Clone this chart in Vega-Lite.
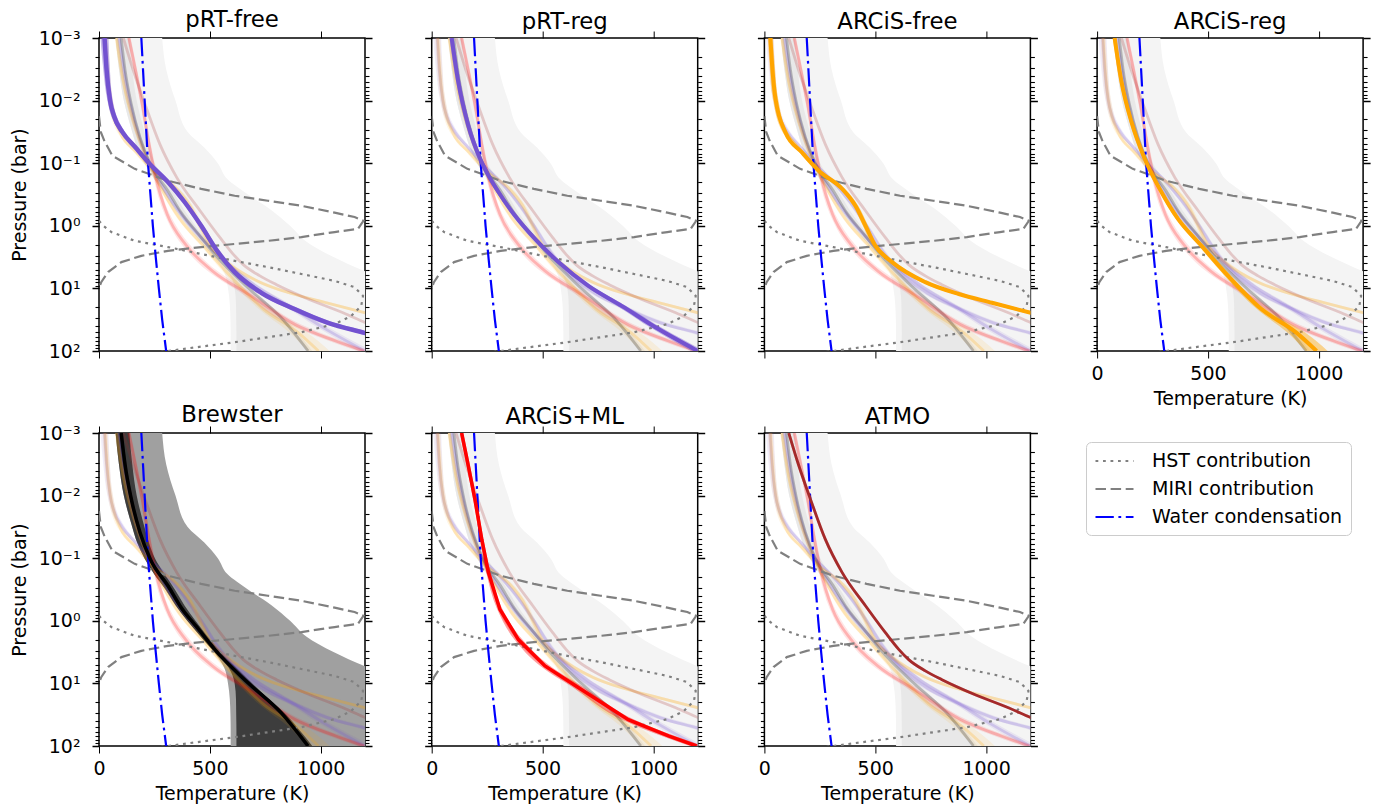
{
"$schema":"https://vega.github.io/schema/vega-lite/v6.json",
"background":"white",
"padding":{"left":9,"top":8,"right":5,"bottom":5},
"bounds":"flush",
"columns":4,
"spacing":{"row":82,"column":66.7},
"resolve":{"scale":{"color":"shared","strokeDash":"shared"},"legend":{"color":"shared","strokeDash":"shared"}},
"datasets":{
"prof":[
{"m":"pRT-free","P":0.001,"T":25,"lo":7,"hi":43},
{"m":"pRT-free","P":0.003162,"T":34,"lo":19,"hi":49},
{"m":"pRT-free","P":0.01,"T":50,"lo":38,"hi":62},
{"m":"pRT-free","P":0.01778,"T":68,"lo":56,"hi":80},
{"m":"pRT-free","P":0.03162,"T":105,"lo":93,"hi":117},
{"m":"pRT-free","P":0.05623,"T":165,"lo":155,"hi":175},
{"m":"pRT-free","P":0.1,"T":226,"lo":216,"hi":236},
{"m":"pRT-free","P":0.1995,"T":311,"lo":301,"hi":321},
{"m":"pRT-free","P":0.4169,"T":386,"lo":376,"hi":396},
{"m":"pRT-free","P":1,"T":461,"lo":451,"hi":471},
{"m":"pRT-free","P":2.63,"T":537,"lo":525,"hi":549},
{"m":"pRT-free","P":5.495,"T":612,"lo":597,"hi":627},
{"m":"pRT-free","P":11.75,"T":732,"lo":712,"hi":752},
{"m":"pRT-free","P":21.38,"T":882,"lo":857,"hi":907},
{"m":"pRT-free","P":35.48,"T":1033,"lo":1003,"hi":1063},
{"m":"pRT-free","P":51.29,"T":1198,"lo":1163,"hi":1233},
{"m":"pRT-free","P":100,"T":1500,"lo":1455,"hi":1545},
{"m":"pRT-reg","P":0.001,"T":90,"lo":80,"hi":100},
{"m":"pRT-reg","P":0.005012,"T":120,"lo":110,"hi":130},
{"m":"pRT-reg","P":0.02512,"T":165,"lo":155,"hi":175},
{"m":"pRT-reg","P":0.09772,"T":226,"lo":216,"hi":236},
{"m":"pRT-reg","P":0.2884,"T":301,"lo":291,"hi":311},
{"m":"pRT-reg","P":0.6918,"T":376,"lo":366,"hi":386},
{"m":"pRT-reg","P":1.622,"T":466,"lo":454,"hi":478},
{"m":"pRT-reg","P":3.802,"T":572,"lo":560,"hi":584},
{"m":"pRT-reg","P":9.12,"T":707,"lo":692,"hi":722},
{"m":"pRT-reg","P":19.05,"T":857,"lo":837,"hi":877},
{"m":"pRT-reg","P":44.67,"T":1023,"lo":998,"hi":1048},
{"m":"pRT-reg","P":100,"T":1200,"lo":1170,"hi":1230},
{"m":"ARCiS-free","P":0.001,"T":27,"lo":15,"hi":39},
{"m":"ARCiS-free","P":0.002754,"T":35,"lo":23,"hi":47},
{"m":"ARCiS-free","P":0.009333,"T":50,"lo":38,"hi":62},
{"m":"ARCiS-free","P":0.03236,"T":95,"lo":83,"hi":107},
{"m":"ARCiS-free","P":0.06761,"T":170,"lo":158,"hi":182},
{"m":"ARCiS-free","P":0.1318,"T":245,"lo":233,"hi":257},
{"m":"ARCiS-free","P":0.257,"T":351,"lo":339,"hi":363},
{"m":"ARCiS-free","P":0.4786,"T":411,"lo":399,"hi":423},
{"m":"ARCiS-free","P":1,"T":456,"lo":444,"hi":468},
{"m":"ARCiS-free","P":2.089,"T":501,"lo":489,"hi":513},
{"m":"ARCiS-free","P":3.802,"T":576,"lo":562,"hi":590},
{"m":"ARCiS-free","P":7.943,"T":726,"lo":708,"hi":744},
{"m":"ARCiS-free","P":12.3,"T":877,"lo":855,"hi":899},
{"m":"ARCiS-free","P":16.98,"T":1027,"lo":1002,"hi":1052},
{"m":"ARCiS-free","P":24.55,"T":1202,"lo":1174,"hi":1230},
{"m":"ARCiS-free","P":100,"T":1870,"lo":1830,"hi":1910},
{"m":"ARCiS-reg","P":0.001,"T":79,"lo":71,"hi":87},
{"m":"ARCiS-reg","P":0.005012,"T":110,"lo":102,"hi":118},
{"m":"ARCiS-reg","P":0.02188,"T":155,"lo":147,"hi":163},
{"m":"ARCiS-reg","P":0.08511,"T":215,"lo":207,"hi":223},
{"m":"ARCiS-reg","P":0.2884,"T":290,"lo":282,"hi":298},
{"m":"ARCiS-reg","P":0.7762,"T":365,"lo":355,"hi":375},
{"m":"ARCiS-reg","P":2.089,"T":471,"lo":459,"hi":483},
{"m":"ARCiS-reg","P":6.31,"T":591,"lo":576,"hi":606},
{"m":"ARCiS-reg","P":21.38,"T":741,"lo":721,"hi":761},
{"m":"ARCiS-reg","P":51.29,"T":900,"lo":860,"hi":940},
{"m":"ARCiS-reg","P":100,"T":990,"lo":940,"hi":1040},
{"m":"Brewster","P":0.001,"T":100,"lo":100,"hi":100},
{"m":"Brewster","P":0.003311,"T":118,"lo":118,"hi":118},
{"m":"Brewster","P":0.01148,"T":146,"lo":146,"hi":146},
{"m":"Brewster","P":0.0389,"T":185,"lo":185,"hi":185},
{"m":"Brewster","P":0.1047,"T":232,"lo":232,"hi":232},
{"m":"Brewster","P":0.2754,"T":311,"lo":311,"hi":311},
{"m":"Brewster","P":0.6166,"T":371,"lo":371,"hi":371},
{"m":"Brewster","P":1.349,"T":448,"lo":448,"hi":448},
{"m":"Brewster","P":2.858,"T":522,"lo":522,"hi":522},
{"m":"Brewster","P":9.772,"T":672,"lo":672,"hi":672},
{"m":"Brewster","P":29.51,"T":822,"lo":822,"hi":822},
{"m":"Brewster","P":100,"T":943,"lo":943,"hi":943},
{"m":"ARCiS+ML","P":0.001,"T":135,"lo":127,"hi":143},
{"m":"ARCiS+ML","P":0.003311,"T":165,"lo":157,"hi":173},
{"m":"ARCiS+ML","P":0.01148,"T":195,"lo":187,"hi":203},
{"m":"ARCiS+ML","P":0.05012,"T":226,"lo":218,"hi":234},
{"m":"ARCiS+ML","P":0.1698,"T":256,"lo":246,"hi":266},
{"m":"ARCiS+ML","P":0.6607,"T":308,"lo":296,"hi":320},
{"m":"ARCiS+ML","P":1.995,"T":391,"lo":373,"hi":409},
{"m":"ARCiS+ML","P":5.248,"T":511,"lo":489,"hi":533},
{"m":"ARCiS+ML","P":12.59,"T":677,"lo":652,"hi":702},
{"m":"ARCiS+ML","P":38.02,"T":887,"lo":859,"hi":915},
{"m":"ARCiS+ML","P":69.18,"T":1068,"lo":1038,"hi":1098},
{"m":"ARCiS+ML","P":100,"T":1195,"lo":1165,"hi":1225},
{"m":"ATMO","P":0.001,"T":110,"lo":110,"hi":110},
{"m":"ATMO","P":0.003311,"T":155,"lo":155,"hi":155},
{"m":"ATMO","P":0.01148,"T":208,"lo":208,"hi":208},
{"m":"ATMO","P":0.05012,"T":275,"lo":275,"hi":275},
{"m":"ATMO","P":0.1698,"T":351,"lo":351,"hi":351},
{"m":"ATMO","P":0.5754,"T":456,"lo":456,"hi":456},
{"m":"ATMO","P":1.549,"T":546,"lo":546,"hi":546},
{"m":"ATMO","P":2.858,"T":606,"lo":606,"hi":606},
{"m":"ATMO","P":4.169,"T":651,"lo":651,"hi":651},
{"m":"ATMO","P":6.31,"T":726,"lo":726,"hi":726},
{"m":"ATMO","P":8.71,"T":801,"lo":801,"hi":801},
{"m":"ATMO","P":15.14,"T":951,"lo":951,"hi":951},
{"m":"ATMO","P":24.55,"T":1101,"lo":1101,"hi":1101},
{"m":"ATMO","P":35.48,"T":1203,"lo":1203,"hi":1203},
{"m":"ATMO","P":100,"T":1560,"lo":1560,"hi":1560}
],
"env":[
{"P":0.001,"olo":75,"ilo":75,"ihi":137,"ohi":285},
{"P":0.003162,"olo":90,"ilo":90,"ihi":150,"ohi":303},
{"P":0.01,"olo":112,"ilo":112,"ihi":170,"ohi":345},
{"P":0.03162,"olo":150,"ilo":150,"ihi":205,"ohi":400},
{"P":0.05623,"olo":172,"ilo":172,"ihi":225,"ohi":475},
{"P":0.1,"olo":205,"ilo":205,"ihi":252,"ohi":536},
{"P":0.1778,"olo":248,"ilo":248,"ihi":295,"ohi":578},
{"P":0.3162,"olo":300,"ilo":300,"ihi":342,"ohi":672},
{"P":0.5623,"olo":345,"ilo":345,"ihi":385,"ohi":778},
{"P":1,"olo":398,"ilo":398,"ihi":435,"ohi":862},
{"P":1.778,"olo":458,"ilo":458,"ihi":490,"ohi":935},
{"P":3.162,"olo":518,"ilo":520,"ihi":550,"ohi":1058},
{"P":5.623,"olo":565,"ilo":585,"ihi":620,"ohi":1215},
{"P":10,"olo":582,"ilo":612,"ihi":692,"ohi":1400},
{"P":17.78,"olo":590,"ilo":618,"ihi":765,"ohi":1550},
{"P":31.62,"olo":593,"ilo":619,"ihi":845,"ohi":1700},
{"P":56.23,"olo":594,"ilo":620,"ihi":905,"ohi":1850},
{"P":100,"olo":594,"ilo":620,"ihi":962,"ohi":2000}
],
"con":[
{"name":"MIRI contribution","i":0,"T":0,"P":0.01778},
{"name":"MIRI contribution","i":1,"T":8,"P":0.03162},
{"name":"MIRI contribution","i":2,"T":25,"P":0.04467},
{"name":"MIRI contribution","i":3,"T":60,"P":0.07586},
{"name":"MIRI contribution","i":4,"T":161,"P":0.123},
{"name":"MIRI contribution","i":5,"T":311,"P":0.1905},
{"name":"MIRI contribution","i":6,"T":461,"P":0.257},
{"name":"MIRI contribution","i":7,"T":612,"P":0.3311},
{"name":"MIRI contribution","i":8,"T":762,"P":0.3981},
{"name":"MIRI contribution","i":9,"T":913,"P":0.4786},
{"name":"MIRI contribution","i":10,"T":1063,"P":0.6166},
{"name":"MIRI contribution","i":11,"T":1153,"P":0.7244},
{"name":"MIRI contribution","i":12,"T":1193,"P":0.8318},
{"name":"MIRI contribution","i":13,"T":1168,"P":1.122},
{"name":"MIRI contribution","i":14,"T":1063,"P":1.259},
{"name":"MIRI contribution","i":15,"T":913,"P":1.514},
{"name":"MIRI contribution","i":16,"T":762,"P":1.738},
{"name":"MIRI contribution","i":17,"T":612,"P":1.95},
{"name":"MIRI contribution","i":18,"T":461,"P":2.188},
{"name":"MIRI contribution","i":19,"T":311,"P":2.512},
{"name":"MIRI contribution","i":20,"T":191,"P":3.02},
{"name":"MIRI contribution","i":21,"T":101,"P":3.802},
{"name":"MIRI contribution","i":22,"T":41,"P":5.495},
{"name":"MIRI contribution","i":23,"T":10,"P":7.943},
{"name":"MIRI contribution","i":24,"T":0,"P":10},
{"name":"HST contribution","i":0,"T":0,"P":0.8318},
{"name":"HST contribution","i":1,"T":20,"P":1},
{"name":"HST contribution","i":2,"T":56,"P":1.259},
{"name":"HST contribution","i":3,"T":161,"P":1.738},
{"name":"HST contribution","i":4,"T":311,"P":2.188},
{"name":"HST contribution","i":5,"T":461,"P":2.818},
{"name":"HST contribution","i":6,"T":612,"P":3.631},
{"name":"HST contribution","i":7,"T":762,"P":4.571},
{"name":"HST contribution","i":8,"T":913,"P":5.888},
{"name":"HST contribution","i":9,"T":1063,"P":7.586},
{"name":"HST contribution","i":10,"T":1153,"P":9.55},
{"name":"HST contribution","i":11,"T":1191,"P":13.18},
{"name":"HST contribution","i":12,"T":1183,"P":19.05},
{"name":"HST contribution","i":13,"T":1138,"P":27.54},
{"name":"HST contribution","i":14,"T":1063,"P":37.15},
{"name":"HST contribution","i":15,"T":913,"P":50.12},
{"name":"HST contribution","i":16,"T":762,"P":60.26},
{"name":"HST contribution","i":17,"T":612,"P":72.44},
{"name":"HST contribution","i":18,"T":461,"P":85.11},
{"name":"HST contribution","i":19,"T":311,"P":100},
{"name":"HST contribution","i":20,"T":250,"P":107.2},
{"name":"Water condensation","i":0,"T":191,"P":0.001},
{"name":"Water condensation","i":1,"T":206,"P":0.01},
{"name":"Water condensation","i":2,"T":221,"P":0.1},
{"name":"Water condensation","i":3,"T":243,"P":1},
{"name":"Water condensation","i":4,"T":256,"P":3.162},
{"name":"Water condensation","i":5,"T":270,"P":10},
{"name":"Water condensation","i":6,"T":285,"P":31.62},
{"name":"Water condensation","i":7,"T":303,"P":100}
]
},
"concat":[
{"title":"pRT-free","width":266,"height":313,"layer":[
{"data":{"name":"env"},"mark":{"type":"area","orient":"horizontal","interpolate":"monotone","color":"#f4f4f4","clip":true},"encoding":{"y":{"field":"P","type":"quantitative","scale":{"type":"log","domain":[0.001,100],"reverse":true,"nice":false},"axis":{"orient":"left","values":[0.001,0.002,0.003,0.004,0.005,0.006,0.007,0.008,0.009,0.01,0.02,0.03,0.04,0.05,0.06,0.07,0.08,0.09,0.1,0.2,0.3,0.4,0.5,0.6,0.7,0.8,0.9,1,2,3,4,5,6,7,8,9,10,20,30,40,50,60,70,80,90,100],"labelExpr":"datum.value == 0.001 ? '10⁻³' : datum.value == 0.01 ? '10⁻²' : datum.value == 0.1 ? '10⁻¹' : datum.value == 1 ? '10⁰' : datum.value == 10 ? '10¹' : datum.value == 100 ? '10²' : ''","labelPadding":12,"titlePadding":9,"tickSize":{"condition":{"test":"indexof([0.001,0.01,0.1,1,10,100], datum.value) >= 0","value":7},"value":4},"tickWidth":{"condition":{"test":"indexof([0.001,0.01,0.1,1,10,100], datum.value) >= 0","value":1.5},"value":1.1},"title":"Pressure (bar)"}},"x":{"field":"olo","type":"quantitative","scale":{"domain":[0,1200],"nice":false,"zero":false},"axis":{"orient":"bottom","values":[0,500,1000],"tickSize":7,"labels":false,"title":null}},"x2":{"field":"ohi"}}},
{"data":{"name":"env"},"mark":{"type":"area","orient":"horizontal","interpolate":"monotone","color":"#e8e8e8","clip":true},"encoding":{"y":{"field":"P","type":"quantitative","scale":{"type":"log","domain":[0.001,100],"reverse":true,"nice":false},"axis":{"orient":"right","values":[0.001,0.002,0.003,0.004,0.005,0.006,0.007,0.008,0.009,0.01,0.02,0.03,0.04,0.05,0.06,0.07,0.08,0.09,0.1,0.2,0.3,0.4,0.5,0.6,0.7,0.8,0.9,1,2,3,4,5,6,7,8,9,10,20,30,40,50,60,70,80,90,100],"labels":false,"tickSize":{"condition":{"test":"indexof([0.001,0.01,0.1,1,10,100], datum.value) >= 0","value":7},"value":4},"tickWidth":{"condition":{"test":"indexof([0.001,0.01,0.1,1,10,100], datum.value) >= 0","value":1.5},"value":1.1},"title":null}},"x":{"field":"ilo","type":"quantitative","scale":{"domain":[0,1200],"nice":false,"zero":false},"axis":{"orient":"top","values":[0,500,1000],"tickSize":7,"labels":false,"title":null}},"x2":{"field":"ihi"}}},
{"data":{"name":"prof"},"mark":{"type":"area","orient":"horizontal","interpolate":"monotone","opacity":0.1,"clip":true},"encoding":{"y":{"field":"P","type":"quantitative","scale":{"type":"log","domain":[0.001,100],"reverse":true,"nice":false},"axis":null},"x":{"field":"lo","type":"quantitative","scale":{"domain":[0,1200],"nice":false,"zero":false},"axis":null},"x2":{"field":"hi"},"fill":{"field":"m","type":"nominal","scale":{"domain":["pRT-free","pRT-reg","ARCiS-free","ARCiS-reg","Brewster","ARCiS+ML","ATMO"],"range":["#7352d0","#7352d0","#ffa500","#ffa500","#000000","#ff0000","#a52a2a"]},"legend":null}}},
{"data":{"name":"prof"},"mark":{"type":"line","interpolate":"monotone","opacity":0.22,"strokeWidth":2.8,"clip":true},"encoding":{"y":{"field":"P","type":"quantitative","scale":{"type":"log","domain":[0.001,100],"reverse":true,"nice":false},"axis":null},"x":{"field":"T","type":"quantitative","scale":{"domain":[0,1200],"nice":false,"zero":false},"axis":null},"stroke":{"field":"m","type":"nominal","scale":{"domain":["pRT-free","pRT-reg","ARCiS-free","ARCiS-reg","Brewster","ARCiS+ML","ATMO"],"range":["#7352d0","#7352d0","#ffa500","#ffa500","#000000","#ff0000","#a52a2a"]},"legend":null},"order":{"field":"P","type":"quantitative"}}},
{"data":{"name":"con"},"mark":{"type":"line","strokeWidth":2.2,"clip":true},"encoding":{"y":{"field":"P","type":"quantitative","scale":{"type":"log","domain":[0.001,100],"reverse":true,"nice":false},"axis":null},"x":{"field":"T","type":"quantitative","scale":{"domain":[0,1200],"nice":false,"zero":false},"axis":null},"color":{"field":"name","type":"nominal","title":null,"scale":{"domain":["HST contribution","MIRI contribution","Water condensation"],"range":["#808080","#808080","#0000ff"]}},"strokeDash":{"field":"name","type":"nominal","title":null,"scale":{"domain":["HST contribution","MIRI contribution","Water condensation"],"range":[[2.8,4.7],[10.5,4.6],[18.3,4.6,2.8,4.6]]}},"order":{"field":"i","type":"quantitative"}}},
{"data":{"name":"prof"},"transform":[{"filter":"datum.m == 'pRT-free'"}],"mark":{"type":"area","orient":"horizontal","interpolate":"monotone","color":"#7352d0","opacity":0.35,"clip":true},"encoding":{"y":{"field":"P","type":"quantitative","scale":{"type":"log","domain":[0.001,100],"reverse":true,"nice":false},"axis":null},"x":{"field":"lo","type":"quantitative","scale":{"domain":[0,1200],"nice":false,"zero":false},"axis":null},"x2":{"field":"hi"}}},
{"data":{"name":"prof"},"transform":[{"filter":"datum.m == 'pRT-free'"}],"mark":{"type":"line","interpolate":"monotone","color":"#7352d0","strokeWidth":4.5,"clip":true},"encoding":{"y":{"field":"P","type":"quantitative","scale":{"type":"log","domain":[0.001,100],"reverse":true,"nice":false},"axis":null},"x":{"field":"T","type":"quantitative","scale":{"domain":[0,1200],"nice":false,"zero":false},"axis":null},"order":{"field":"P","type":"quantitative"}}}
]},
{"title":"pRT-reg","width":266,"height":313,"layer":[
{"data":{"name":"env"},"mark":{"type":"area","orient":"horizontal","interpolate":"monotone","color":"#f4f4f4","clip":true},"encoding":{"y":{"field":"P","type":"quantitative","scale":{"type":"log","domain":[0.001,100],"reverse":true,"nice":false},"axis":{"orient":"left","values":[0.001,0.002,0.003,0.004,0.005,0.006,0.007,0.008,0.009,0.01,0.02,0.03,0.04,0.05,0.06,0.07,0.08,0.09,0.1,0.2,0.3,0.4,0.5,0.6,0.7,0.8,0.9,1,2,3,4,5,6,7,8,9,10,20,30,40,50,60,70,80,90,100],"labels":false,"tickSize":{"condition":{"test":"indexof([0.001,0.01,0.1,1,10,100], datum.value) >= 0","value":7},"value":4},"tickWidth":{"condition":{"test":"indexof([0.001,0.01,0.1,1,10,100], datum.value) >= 0","value":1.5},"value":1.1},"title":null}},"x":{"field":"olo","type":"quantitative","scale":{"domain":[0,1200],"nice":false,"zero":false},"axis":{"orient":"bottom","values":[0,500,1000],"tickSize":7,"labels":false,"title":null}},"x2":{"field":"ohi"}}},
{"data":{"name":"env"},"mark":{"type":"area","orient":"horizontal","interpolate":"monotone","color":"#e8e8e8","clip":true},"encoding":{"y":{"field":"P","type":"quantitative","scale":{"type":"log","domain":[0.001,100],"reverse":true,"nice":false},"axis":{"orient":"right","values":[0.001,0.002,0.003,0.004,0.005,0.006,0.007,0.008,0.009,0.01,0.02,0.03,0.04,0.05,0.06,0.07,0.08,0.09,0.1,0.2,0.3,0.4,0.5,0.6,0.7,0.8,0.9,1,2,3,4,5,6,7,8,9,10,20,30,40,50,60,70,80,90,100],"labels":false,"tickSize":{"condition":{"test":"indexof([0.001,0.01,0.1,1,10,100], datum.value) >= 0","value":7},"value":4},"tickWidth":{"condition":{"test":"indexof([0.001,0.01,0.1,1,10,100], datum.value) >= 0","value":1.5},"value":1.1},"title":null}},"x":{"field":"ilo","type":"quantitative","scale":{"domain":[0,1200],"nice":false,"zero":false},"axis":{"orient":"top","values":[0,500,1000],"tickSize":7,"labels":false,"title":null}},"x2":{"field":"ihi"}}},
{"data":{"name":"prof"},"mark":{"type":"area","orient":"horizontal","interpolate":"monotone","opacity":0.1,"clip":true},"encoding":{"y":{"field":"P","type":"quantitative","scale":{"type":"log","domain":[0.001,100],"reverse":true,"nice":false},"axis":null},"x":{"field":"lo","type":"quantitative","scale":{"domain":[0,1200],"nice":false,"zero":false},"axis":null},"x2":{"field":"hi"},"fill":{"field":"m","type":"nominal","scale":{"domain":["pRT-free","pRT-reg","ARCiS-free","ARCiS-reg","Brewster","ARCiS+ML","ATMO"],"range":["#7352d0","#7352d0","#ffa500","#ffa500","#000000","#ff0000","#a52a2a"]},"legend":null}}},
{"data":{"name":"prof"},"mark":{"type":"line","interpolate":"monotone","opacity":0.22,"strokeWidth":2.8,"clip":true},"encoding":{"y":{"field":"P","type":"quantitative","scale":{"type":"log","domain":[0.001,100],"reverse":true,"nice":false},"axis":null},"x":{"field":"T","type":"quantitative","scale":{"domain":[0,1200],"nice":false,"zero":false},"axis":null},"stroke":{"field":"m","type":"nominal","scale":{"domain":["pRT-free","pRT-reg","ARCiS-free","ARCiS-reg","Brewster","ARCiS+ML","ATMO"],"range":["#7352d0","#7352d0","#ffa500","#ffa500","#000000","#ff0000","#a52a2a"]},"legend":null},"order":{"field":"P","type":"quantitative"}}},
{"data":{"name":"con"},"mark":{"type":"line","strokeWidth":2.2,"clip":true},"encoding":{"y":{"field":"P","type":"quantitative","scale":{"type":"log","domain":[0.001,100],"reverse":true,"nice":false},"axis":null},"x":{"field":"T","type":"quantitative","scale":{"domain":[0,1200],"nice":false,"zero":false},"axis":null},"color":{"field":"name","type":"nominal","title":null,"scale":{"domain":["HST contribution","MIRI contribution","Water condensation"],"range":["#808080","#808080","#0000ff"]}},"strokeDash":{"field":"name","type":"nominal","title":null,"scale":{"domain":["HST contribution","MIRI contribution","Water condensation"],"range":[[2.8,4.7],[10.5,4.6],[18.3,4.6,2.8,4.6]]}},"order":{"field":"i","type":"quantitative"}}},
{"data":{"name":"prof"},"transform":[{"filter":"datum.m == 'pRT-reg'"}],"mark":{"type":"area","orient":"horizontal","interpolate":"monotone","color":"#7352d0","opacity":0.35,"clip":true},"encoding":{"y":{"field":"P","type":"quantitative","scale":{"type":"log","domain":[0.001,100],"reverse":true,"nice":false},"axis":null},"x":{"field":"lo","type":"quantitative","scale":{"domain":[0,1200],"nice":false,"zero":false},"axis":null},"x2":{"field":"hi"}}},
{"data":{"name":"prof"},"transform":[{"filter":"datum.m == 'pRT-reg'"}],"mark":{"type":"line","interpolate":"monotone","color":"#7352d0","strokeWidth":4,"clip":true},"encoding":{"y":{"field":"P","type":"quantitative","scale":{"type":"log","domain":[0.001,100],"reverse":true,"nice":false},"axis":null},"x":{"field":"T","type":"quantitative","scale":{"domain":[0,1200],"nice":false,"zero":false},"axis":null},"order":{"field":"P","type":"quantitative"}}}
]},
{"title":"ARCiS-free","width":266,"height":313,"layer":[
{"data":{"name":"env"},"mark":{"type":"area","orient":"horizontal","interpolate":"monotone","color":"#f4f4f4","clip":true},"encoding":{"y":{"field":"P","type":"quantitative","scale":{"type":"log","domain":[0.001,100],"reverse":true,"nice":false},"axis":{"orient":"left","values":[0.001,0.002,0.003,0.004,0.005,0.006,0.007,0.008,0.009,0.01,0.02,0.03,0.04,0.05,0.06,0.07,0.08,0.09,0.1,0.2,0.3,0.4,0.5,0.6,0.7,0.8,0.9,1,2,3,4,5,6,7,8,9,10,20,30,40,50,60,70,80,90,100],"labels":false,"tickSize":{"condition":{"test":"indexof([0.001,0.01,0.1,1,10,100], datum.value) >= 0","value":7},"value":4},"tickWidth":{"condition":{"test":"indexof([0.001,0.01,0.1,1,10,100], datum.value) >= 0","value":1.5},"value":1.1},"title":null}},"x":{"field":"olo","type":"quantitative","scale":{"domain":[0,1200],"nice":false,"zero":false},"axis":{"orient":"bottom","values":[0,500,1000],"tickSize":7,"labels":false,"title":null}},"x2":{"field":"ohi"}}},
{"data":{"name":"env"},"mark":{"type":"area","orient":"horizontal","interpolate":"monotone","color":"#e8e8e8","clip":true},"encoding":{"y":{"field":"P","type":"quantitative","scale":{"type":"log","domain":[0.001,100],"reverse":true,"nice":false},"axis":{"orient":"right","values":[0.001,0.002,0.003,0.004,0.005,0.006,0.007,0.008,0.009,0.01,0.02,0.03,0.04,0.05,0.06,0.07,0.08,0.09,0.1,0.2,0.3,0.4,0.5,0.6,0.7,0.8,0.9,1,2,3,4,5,6,7,8,9,10,20,30,40,50,60,70,80,90,100],"labels":false,"tickSize":{"condition":{"test":"indexof([0.001,0.01,0.1,1,10,100], datum.value) >= 0","value":7},"value":4},"tickWidth":{"condition":{"test":"indexof([0.001,0.01,0.1,1,10,100], datum.value) >= 0","value":1.5},"value":1.1},"title":null}},"x":{"field":"ilo","type":"quantitative","scale":{"domain":[0,1200],"nice":false,"zero":false},"axis":{"orient":"top","values":[0,500,1000],"tickSize":7,"labels":false,"title":null}},"x2":{"field":"ihi"}}},
{"data":{"name":"prof"},"mark":{"type":"area","orient":"horizontal","interpolate":"monotone","opacity":0.1,"clip":true},"encoding":{"y":{"field":"P","type":"quantitative","scale":{"type":"log","domain":[0.001,100],"reverse":true,"nice":false},"axis":null},"x":{"field":"lo","type":"quantitative","scale":{"domain":[0,1200],"nice":false,"zero":false},"axis":null},"x2":{"field":"hi"},"fill":{"field":"m","type":"nominal","scale":{"domain":["pRT-free","pRT-reg","ARCiS-free","ARCiS-reg","Brewster","ARCiS+ML","ATMO"],"range":["#7352d0","#7352d0","#ffa500","#ffa500","#000000","#ff0000","#a52a2a"]},"legend":null}}},
{"data":{"name":"prof"},"mark":{"type":"line","interpolate":"monotone","opacity":0.22,"strokeWidth":2.8,"clip":true},"encoding":{"y":{"field":"P","type":"quantitative","scale":{"type":"log","domain":[0.001,100],"reverse":true,"nice":false},"axis":null},"x":{"field":"T","type":"quantitative","scale":{"domain":[0,1200],"nice":false,"zero":false},"axis":null},"stroke":{"field":"m","type":"nominal","scale":{"domain":["pRT-free","pRT-reg","ARCiS-free","ARCiS-reg","Brewster","ARCiS+ML","ATMO"],"range":["#7352d0","#7352d0","#ffa500","#ffa500","#000000","#ff0000","#a52a2a"]},"legend":null},"order":{"field":"P","type":"quantitative"}}},
{"data":{"name":"con"},"mark":{"type":"line","strokeWidth":2.2,"clip":true},"encoding":{"y":{"field":"P","type":"quantitative","scale":{"type":"log","domain":[0.001,100],"reverse":true,"nice":false},"axis":null},"x":{"field":"T","type":"quantitative","scale":{"domain":[0,1200],"nice":false,"zero":false},"axis":null},"color":{"field":"name","type":"nominal","title":null,"scale":{"domain":["HST contribution","MIRI contribution","Water condensation"],"range":["#808080","#808080","#0000ff"]}},"strokeDash":{"field":"name","type":"nominal","title":null,"scale":{"domain":["HST contribution","MIRI contribution","Water condensation"],"range":[[2.8,4.7],[10.5,4.6],[18.3,4.6,2.8,4.6]]}},"order":{"field":"i","type":"quantitative"}}},
{"data":{"name":"prof"},"transform":[{"filter":"datum.m == 'ARCiS-free'"}],"mark":{"type":"area","orient":"horizontal","interpolate":"monotone","color":"#ffa500","opacity":0.35,"clip":true},"encoding":{"y":{"field":"P","type":"quantitative","scale":{"type":"log","domain":[0.001,100],"reverse":true,"nice":false},"axis":null},"x":{"field":"lo","type":"quantitative","scale":{"domain":[0,1200],"nice":false,"zero":false},"axis":null},"x2":{"field":"hi"}}},
{"data":{"name":"prof"},"transform":[{"filter":"datum.m == 'ARCiS-free'"}],"mark":{"type":"line","interpolate":"monotone","color":"#ffa500","strokeWidth":4,"clip":true},"encoding":{"y":{"field":"P","type":"quantitative","scale":{"type":"log","domain":[0.001,100],"reverse":true,"nice":false},"axis":null},"x":{"field":"T","type":"quantitative","scale":{"domain":[0,1200],"nice":false,"zero":false},"axis":null},"order":{"field":"P","type":"quantitative"}}}
]},
{"title":"ARCiS-reg","width":266,"height":313,"layer":[
{"data":{"name":"env"},"mark":{"type":"area","orient":"horizontal","interpolate":"monotone","color":"#f4f4f4","clip":true},"encoding":{"y":{"field":"P","type":"quantitative","scale":{"type":"log","domain":[0.001,100],"reverse":true,"nice":false},"axis":{"orient":"left","values":[0.001,0.002,0.003,0.004,0.005,0.006,0.007,0.008,0.009,0.01,0.02,0.03,0.04,0.05,0.06,0.07,0.08,0.09,0.1,0.2,0.3,0.4,0.5,0.6,0.7,0.8,0.9,1,2,3,4,5,6,7,8,9,10,20,30,40,50,60,70,80,90,100],"labels":false,"tickSize":{"condition":{"test":"indexof([0.001,0.01,0.1,1,10,100], datum.value) >= 0","value":7},"value":4},"tickWidth":{"condition":{"test":"indexof([0.001,0.01,0.1,1,10,100], datum.value) >= 0","value":1.5},"value":1.1},"title":null}},"x":{"field":"olo","type":"quantitative","scale":{"domain":[0,1200],"nice":false,"zero":false},"axis":{"orient":"bottom","values":[0,500,1000],"format":"d","tickSize":7,"title":"Temperature (K)"}},"x2":{"field":"ohi"}}},
{"data":{"name":"env"},"mark":{"type":"area","orient":"horizontal","interpolate":"monotone","color":"#e8e8e8","clip":true},"encoding":{"y":{"field":"P","type":"quantitative","scale":{"type":"log","domain":[0.001,100],"reverse":true,"nice":false},"axis":{"orient":"right","values":[0.001,0.002,0.003,0.004,0.005,0.006,0.007,0.008,0.009,0.01,0.02,0.03,0.04,0.05,0.06,0.07,0.08,0.09,0.1,0.2,0.3,0.4,0.5,0.6,0.7,0.8,0.9,1,2,3,4,5,6,7,8,9,10,20,30,40,50,60,70,80,90,100],"labels":false,"tickSize":{"condition":{"test":"indexof([0.001,0.01,0.1,1,10,100], datum.value) >= 0","value":7},"value":4},"tickWidth":{"condition":{"test":"indexof([0.001,0.01,0.1,1,10,100], datum.value) >= 0","value":1.5},"value":1.1},"title":null}},"x":{"field":"ilo","type":"quantitative","scale":{"domain":[0,1200],"nice":false,"zero":false},"axis":{"orient":"top","values":[0,500,1000],"tickSize":7,"labels":false,"title":null}},"x2":{"field":"ihi"}}},
{"data":{"name":"prof"},"mark":{"type":"area","orient":"horizontal","interpolate":"monotone","opacity":0.1,"clip":true},"encoding":{"y":{"field":"P","type":"quantitative","scale":{"type":"log","domain":[0.001,100],"reverse":true,"nice":false},"axis":null},"x":{"field":"lo","type":"quantitative","scale":{"domain":[0,1200],"nice":false,"zero":false},"axis":null},"x2":{"field":"hi"},"fill":{"field":"m","type":"nominal","scale":{"domain":["pRT-free","pRT-reg","ARCiS-free","ARCiS-reg","Brewster","ARCiS+ML","ATMO"],"range":["#7352d0","#7352d0","#ffa500","#ffa500","#000000","#ff0000","#a52a2a"]},"legend":null}}},
{"data":{"name":"prof"},"mark":{"type":"line","interpolate":"monotone","opacity":0.22,"strokeWidth":2.8,"clip":true},"encoding":{"y":{"field":"P","type":"quantitative","scale":{"type":"log","domain":[0.001,100],"reverse":true,"nice":false},"axis":null},"x":{"field":"T","type":"quantitative","scale":{"domain":[0,1200],"nice":false,"zero":false},"axis":null},"stroke":{"field":"m","type":"nominal","scale":{"domain":["pRT-free","pRT-reg","ARCiS-free","ARCiS-reg","Brewster","ARCiS+ML","ATMO"],"range":["#7352d0","#7352d0","#ffa500","#ffa500","#000000","#ff0000","#a52a2a"]},"legend":null},"order":{"field":"P","type":"quantitative"}}},
{"data":{"name":"con"},"mark":{"type":"line","strokeWidth":2.2,"clip":true},"encoding":{"y":{"field":"P","type":"quantitative","scale":{"type":"log","domain":[0.001,100],"reverse":true,"nice":false},"axis":null},"x":{"field":"T","type":"quantitative","scale":{"domain":[0,1200],"nice":false,"zero":false},"axis":null},"color":{"field":"name","type":"nominal","title":null,"scale":{"domain":["HST contribution","MIRI contribution","Water condensation"],"range":["#808080","#808080","#0000ff"]}},"strokeDash":{"field":"name","type":"nominal","title":null,"scale":{"domain":["HST contribution","MIRI contribution","Water condensation"],"range":[[2.8,4.7],[10.5,4.6],[18.3,4.6,2.8,4.6]]}},"order":{"field":"i","type":"quantitative"}}},
{"data":{"name":"prof"},"transform":[{"filter":"datum.m == 'ARCiS-reg'"}],"mark":{"type":"area","orient":"horizontal","interpolate":"monotone","color":"#ffa500","opacity":0.35,"clip":true},"encoding":{"y":{"field":"P","type":"quantitative","scale":{"type":"log","domain":[0.001,100],"reverse":true,"nice":false},"axis":null},"x":{"field":"lo","type":"quantitative","scale":{"domain":[0,1200],"nice":false,"zero":false},"axis":null},"x2":{"field":"hi"}}},
{"data":{"name":"prof"},"transform":[{"filter":"datum.m == 'ARCiS-reg'"}],"mark":{"type":"line","interpolate":"monotone","color":"#ffa500","strokeWidth":4,"clip":true},"encoding":{"y":{"field":"P","type":"quantitative","scale":{"type":"log","domain":[0.001,100],"reverse":true,"nice":false},"axis":null},"x":{"field":"T","type":"quantitative","scale":{"domain":[0,1200],"nice":false,"zero":false},"axis":null},"order":{"field":"P","type":"quantitative"}}}
]},
{"title":"Brewster","width":266,"height":313,"layer":[
{"data":{"name":"env"},"mark":{"type":"area","orient":"horizontal","interpolate":"monotone","color":"#a0a0a0","clip":true},"encoding":{"y":{"field":"P","type":"quantitative","scale":{"type":"log","domain":[0.001,100],"reverse":true,"nice":false},"axis":{"orient":"left","values":[0.001,0.002,0.003,0.004,0.005,0.006,0.007,0.008,0.009,0.01,0.02,0.03,0.04,0.05,0.06,0.07,0.08,0.09,0.1,0.2,0.3,0.4,0.5,0.6,0.7,0.8,0.9,1,2,3,4,5,6,7,8,9,10,20,30,40,50,60,70,80,90,100],"labelExpr":"datum.value == 0.001 ? '10⁻³' : datum.value == 0.01 ? '10⁻²' : datum.value == 0.1 ? '10⁻¹' : datum.value == 1 ? '10⁰' : datum.value == 10 ? '10¹' : datum.value == 100 ? '10²' : ''","labelPadding":12,"titlePadding":9,"tickSize":{"condition":{"test":"indexof([0.001,0.01,0.1,1,10,100], datum.value) >= 0","value":7},"value":4},"tickWidth":{"condition":{"test":"indexof([0.001,0.01,0.1,1,10,100], datum.value) >= 0","value":1.5},"value":1.1},"title":"Pressure (bar)"}},"x":{"field":"olo","type":"quantitative","scale":{"domain":[0,1200],"nice":false,"zero":false},"axis":{"orient":"bottom","values":[0,500,1000],"format":"d","tickSize":7,"title":"Temperature (K)"}},"x2":{"field":"ohi"}}},
{"data":{"name":"env"},"mark":{"type":"area","orient":"horizontal","interpolate":"monotone","color":"#3d3d3d","clip":true},"encoding":{"y":{"field":"P","type":"quantitative","scale":{"type":"log","domain":[0.001,100],"reverse":true,"nice":false},"axis":{"orient":"right","values":[0.001,0.002,0.003,0.004,0.005,0.006,0.007,0.008,0.009,0.01,0.02,0.03,0.04,0.05,0.06,0.07,0.08,0.09,0.1,0.2,0.3,0.4,0.5,0.6,0.7,0.8,0.9,1,2,3,4,5,6,7,8,9,10,20,30,40,50,60,70,80,90,100],"labels":false,"tickSize":{"condition":{"test":"indexof([0.001,0.01,0.1,1,10,100], datum.value) >= 0","value":7},"value":4},"tickWidth":{"condition":{"test":"indexof([0.001,0.01,0.1,1,10,100], datum.value) >= 0","value":1.5},"value":1.1},"title":null}},"x":{"field":"ilo","type":"quantitative","scale":{"domain":[0,1200],"nice":false,"zero":false},"axis":{"orient":"top","values":[0,500,1000],"tickSize":7,"labels":false,"title":null}},"x2":{"field":"ihi"}}},
{"data":{"name":"prof"},"mark":{"type":"area","orient":"horizontal","interpolate":"monotone","opacity":0.1,"clip":true},"encoding":{"y":{"field":"P","type":"quantitative","scale":{"type":"log","domain":[0.001,100],"reverse":true,"nice":false},"axis":null},"x":{"field":"lo","type":"quantitative","scale":{"domain":[0,1200],"nice":false,"zero":false},"axis":null},"x2":{"field":"hi"},"fill":{"field":"m","type":"nominal","scale":{"domain":["pRT-free","pRT-reg","ARCiS-free","ARCiS-reg","Brewster","ARCiS+ML","ATMO"],"range":["#7352d0","#7352d0","#ffa500","#ffa500","#000000","#ff0000","#a52a2a"]},"legend":null}}},
{"data":{"name":"prof"},"mark":{"type":"line","interpolate":"monotone","opacity":0.22,"strokeWidth":2.8,"clip":true},"encoding":{"y":{"field":"P","type":"quantitative","scale":{"type":"log","domain":[0.001,100],"reverse":true,"nice":false},"axis":null},"x":{"field":"T","type":"quantitative","scale":{"domain":[0,1200],"nice":false,"zero":false},"axis":null},"stroke":{"field":"m","type":"nominal","scale":{"domain":["pRT-free","pRT-reg","ARCiS-free","ARCiS-reg","Brewster","ARCiS+ML","ATMO"],"range":["#7352d0","#7352d0","#ffa500","#ffa500","#000000","#ff0000","#a52a2a"]},"legend":null},"order":{"field":"P","type":"quantitative"}}},
{"data":{"name":"con"},"mark":{"type":"line","strokeWidth":2.2,"clip":true},"encoding":{"y":{"field":"P","type":"quantitative","scale":{"type":"log","domain":[0.001,100],"reverse":true,"nice":false},"axis":null},"x":{"field":"T","type":"quantitative","scale":{"domain":[0,1200],"nice":false,"zero":false},"axis":null},"color":{"field":"name","type":"nominal","title":null,"scale":{"domain":["HST contribution","MIRI contribution","Water condensation"],"range":["#808080","#808080","#0000ff"]}},"strokeDash":{"field":"name","type":"nominal","title":null,"scale":{"domain":["HST contribution","MIRI contribution","Water condensation"],"range":[[2.8,4.7],[10.5,4.6],[18.3,4.6,2.8,4.6]]}},"order":{"field":"i","type":"quantitative"}}},
{"data":{"name":"prof"},"transform":[{"filter":"datum.m == 'Brewster'"}],"mark":{"type":"line","interpolate":"monotone","color":"#000000","strokeWidth":3.5,"clip":true},"encoding":{"y":{"field":"P","type":"quantitative","scale":{"type":"log","domain":[0.001,100],"reverse":true,"nice":false},"axis":null},"x":{"field":"T","type":"quantitative","scale":{"domain":[0,1200],"nice":false,"zero":false},"axis":null},"order":{"field":"P","type":"quantitative"}}}
]},
{"title":"ARCiS+ML","width":266,"height":313,"layer":[
{"data":{"name":"env"},"mark":{"type":"area","orient":"horizontal","interpolate":"monotone","color":"#f4f4f4","clip":true},"encoding":{"y":{"field":"P","type":"quantitative","scale":{"type":"log","domain":[0.001,100],"reverse":true,"nice":false},"axis":{"orient":"left","values":[0.001,0.002,0.003,0.004,0.005,0.006,0.007,0.008,0.009,0.01,0.02,0.03,0.04,0.05,0.06,0.07,0.08,0.09,0.1,0.2,0.3,0.4,0.5,0.6,0.7,0.8,0.9,1,2,3,4,5,6,7,8,9,10,20,30,40,50,60,70,80,90,100],"labels":false,"tickSize":{"condition":{"test":"indexof([0.001,0.01,0.1,1,10,100], datum.value) >= 0","value":7},"value":4},"tickWidth":{"condition":{"test":"indexof([0.001,0.01,0.1,1,10,100], datum.value) >= 0","value":1.5},"value":1.1},"title":null}},"x":{"field":"olo","type":"quantitative","scale":{"domain":[0,1200],"nice":false,"zero":false},"axis":{"orient":"bottom","values":[0,500,1000],"format":"d","tickSize":7,"title":"Temperature (K)"}},"x2":{"field":"ohi"}}},
{"data":{"name":"env"},"mark":{"type":"area","orient":"horizontal","interpolate":"monotone","color":"#e8e8e8","clip":true},"encoding":{"y":{"field":"P","type":"quantitative","scale":{"type":"log","domain":[0.001,100],"reverse":true,"nice":false},"axis":{"orient":"right","values":[0.001,0.002,0.003,0.004,0.005,0.006,0.007,0.008,0.009,0.01,0.02,0.03,0.04,0.05,0.06,0.07,0.08,0.09,0.1,0.2,0.3,0.4,0.5,0.6,0.7,0.8,0.9,1,2,3,4,5,6,7,8,9,10,20,30,40,50,60,70,80,90,100],"labels":false,"tickSize":{"condition":{"test":"indexof([0.001,0.01,0.1,1,10,100], datum.value) >= 0","value":7},"value":4},"tickWidth":{"condition":{"test":"indexof([0.001,0.01,0.1,1,10,100], datum.value) >= 0","value":1.5},"value":1.1},"title":null}},"x":{"field":"ilo","type":"quantitative","scale":{"domain":[0,1200],"nice":false,"zero":false},"axis":{"orient":"top","values":[0,500,1000],"tickSize":7,"labels":false,"title":null}},"x2":{"field":"ihi"}}},
{"data":{"name":"prof"},"mark":{"type":"area","orient":"horizontal","interpolate":"monotone","opacity":0.1,"clip":true},"encoding":{"y":{"field":"P","type":"quantitative","scale":{"type":"log","domain":[0.001,100],"reverse":true,"nice":false},"axis":null},"x":{"field":"lo","type":"quantitative","scale":{"domain":[0,1200],"nice":false,"zero":false},"axis":null},"x2":{"field":"hi"},"fill":{"field":"m","type":"nominal","scale":{"domain":["pRT-free","pRT-reg","ARCiS-free","ARCiS-reg","Brewster","ARCiS+ML","ATMO"],"range":["#7352d0","#7352d0","#ffa500","#ffa500","#000000","#ff0000","#a52a2a"]},"legend":null}}},
{"data":{"name":"prof"},"mark":{"type":"line","interpolate":"monotone","opacity":0.22,"strokeWidth":2.8,"clip":true},"encoding":{"y":{"field":"P","type":"quantitative","scale":{"type":"log","domain":[0.001,100],"reverse":true,"nice":false},"axis":null},"x":{"field":"T","type":"quantitative","scale":{"domain":[0,1200],"nice":false,"zero":false},"axis":null},"stroke":{"field":"m","type":"nominal","scale":{"domain":["pRT-free","pRT-reg","ARCiS-free","ARCiS-reg","Brewster","ARCiS+ML","ATMO"],"range":["#7352d0","#7352d0","#ffa500","#ffa500","#000000","#ff0000","#a52a2a"]},"legend":null},"order":{"field":"P","type":"quantitative"}}},
{"data":{"name":"con"},"mark":{"type":"line","strokeWidth":2.2,"clip":true},"encoding":{"y":{"field":"P","type":"quantitative","scale":{"type":"log","domain":[0.001,100],"reverse":true,"nice":false},"axis":null},"x":{"field":"T","type":"quantitative","scale":{"domain":[0,1200],"nice":false,"zero":false},"axis":null},"color":{"field":"name","type":"nominal","title":null,"scale":{"domain":["HST contribution","MIRI contribution","Water condensation"],"range":["#808080","#808080","#0000ff"]}},"strokeDash":{"field":"name","type":"nominal","title":null,"scale":{"domain":["HST contribution","MIRI contribution","Water condensation"],"range":[[2.8,4.7],[10.5,4.6],[18.3,4.6,2.8,4.6]]}},"order":{"field":"i","type":"quantitative"}}},
{"data":{"name":"prof"},"transform":[{"filter":"datum.m == 'ARCiS+ML'"}],"mark":{"type":"area","orient":"horizontal","interpolate":"monotone","color":"#ff0000","opacity":0.3,"clip":true},"encoding":{"y":{"field":"P","type":"quantitative","scale":{"type":"log","domain":[0.001,100],"reverse":true,"nice":false},"axis":null},"x":{"field":"lo","type":"quantitative","scale":{"domain":[0,1200],"nice":false,"zero":false},"axis":null},"x2":{"field":"hi"}}},
{"data":{"name":"prof"},"transform":[{"filter":"datum.m == 'ARCiS+ML'"}],"mark":{"type":"line","color":"#ff0000","strokeWidth":3.5,"clip":true},"encoding":{"y":{"field":"P","type":"quantitative","scale":{"type":"log","domain":[0.001,100],"reverse":true,"nice":false},"axis":null},"x":{"field":"T","type":"quantitative","scale":{"domain":[0,1200],"nice":false,"zero":false},"axis":null},"order":{"field":"P","type":"quantitative"}}}
]},
{"title":"ATMO","width":266,"height":313,"layer":[
{"data":{"name":"env"},"mark":{"type":"area","orient":"horizontal","interpolate":"monotone","color":"#f4f4f4","clip":true},"encoding":{"y":{"field":"P","type":"quantitative","scale":{"type":"log","domain":[0.001,100],"reverse":true,"nice":false},"axis":{"orient":"left","values":[0.001,0.002,0.003,0.004,0.005,0.006,0.007,0.008,0.009,0.01,0.02,0.03,0.04,0.05,0.06,0.07,0.08,0.09,0.1,0.2,0.3,0.4,0.5,0.6,0.7,0.8,0.9,1,2,3,4,5,6,7,8,9,10,20,30,40,50,60,70,80,90,100],"labels":false,"tickSize":{"condition":{"test":"indexof([0.001,0.01,0.1,1,10,100], datum.value) >= 0","value":7},"value":4},"tickWidth":{"condition":{"test":"indexof([0.001,0.01,0.1,1,10,100], datum.value) >= 0","value":1.5},"value":1.1},"title":null}},"x":{"field":"olo","type":"quantitative","scale":{"domain":[0,1200],"nice":false,"zero":false},"axis":{"orient":"bottom","values":[0,500,1000],"format":"d","tickSize":7,"title":"Temperature (K)"}},"x2":{"field":"ohi"}}},
{"data":{"name":"env"},"mark":{"type":"area","orient":"horizontal","interpolate":"monotone","color":"#e8e8e8","clip":true},"encoding":{"y":{"field":"P","type":"quantitative","scale":{"type":"log","domain":[0.001,100],"reverse":true,"nice":false},"axis":{"orient":"right","values":[0.001,0.002,0.003,0.004,0.005,0.006,0.007,0.008,0.009,0.01,0.02,0.03,0.04,0.05,0.06,0.07,0.08,0.09,0.1,0.2,0.3,0.4,0.5,0.6,0.7,0.8,0.9,1,2,3,4,5,6,7,8,9,10,20,30,40,50,60,70,80,90,100],"labels":false,"tickSize":{"condition":{"test":"indexof([0.001,0.01,0.1,1,10,100], datum.value) >= 0","value":7},"value":4},"tickWidth":{"condition":{"test":"indexof([0.001,0.01,0.1,1,10,100], datum.value) >= 0","value":1.5},"value":1.1},"title":null}},"x":{"field":"ilo","type":"quantitative","scale":{"domain":[0,1200],"nice":false,"zero":false},"axis":{"orient":"top","values":[0,500,1000],"tickSize":7,"labels":false,"title":null}},"x2":{"field":"ihi"}}},
{"data":{"name":"prof"},"mark":{"type":"area","orient":"horizontal","interpolate":"monotone","opacity":0.1,"clip":true},"encoding":{"y":{"field":"P","type":"quantitative","scale":{"type":"log","domain":[0.001,100],"reverse":true,"nice":false},"axis":null},"x":{"field":"lo","type":"quantitative","scale":{"domain":[0,1200],"nice":false,"zero":false},"axis":null},"x2":{"field":"hi"},"fill":{"field":"m","type":"nominal","scale":{"domain":["pRT-free","pRT-reg","ARCiS-free","ARCiS-reg","Brewster","ARCiS+ML","ATMO"],"range":["#7352d0","#7352d0","#ffa500","#ffa500","#000000","#ff0000","#a52a2a"]},"legend":null}}},
{"data":{"name":"prof"},"mark":{"type":"line","interpolate":"monotone","opacity":0.22,"strokeWidth":2.8,"clip":true},"encoding":{"y":{"field":"P","type":"quantitative","scale":{"type":"log","domain":[0.001,100],"reverse":true,"nice":false},"axis":null},"x":{"field":"T","type":"quantitative","scale":{"domain":[0,1200],"nice":false,"zero":false},"axis":null},"stroke":{"field":"m","type":"nominal","scale":{"domain":["pRT-free","pRT-reg","ARCiS-free","ARCiS-reg","Brewster","ARCiS+ML","ATMO"],"range":["#7352d0","#7352d0","#ffa500","#ffa500","#000000","#ff0000","#a52a2a"]},"legend":null},"order":{"field":"P","type":"quantitative"}}},
{"data":{"name":"con"},"mark":{"type":"line","strokeWidth":2.2,"clip":true},"encoding":{"y":{"field":"P","type":"quantitative","scale":{"type":"log","domain":[0.001,100],"reverse":true,"nice":false},"axis":null},"x":{"field":"T","type":"quantitative","scale":{"domain":[0,1200],"nice":false,"zero":false},"axis":null},"color":{"field":"name","type":"nominal","title":null,"scale":{"domain":["HST contribution","MIRI contribution","Water condensation"],"range":["#808080","#808080","#0000ff"]}},"strokeDash":{"field":"name","type":"nominal","title":null,"scale":{"domain":["HST contribution","MIRI contribution","Water condensation"],"range":[[2.8,4.7],[10.5,4.6],[18.3,4.6,2.8,4.6]]}},"order":{"field":"i","type":"quantitative"}}},
{"data":{"name":"prof"},"transform":[{"filter":"datum.m == 'ATMO'"}],"mark":{"type":"line","interpolate":"monotone","color":"#a52a2a","strokeWidth":2.8,"clip":true},"encoding":{"y":{"field":"P","type":"quantitative","scale":{"type":"log","domain":[0.001,100],"reverse":true,"nice":false},"axis":null},"x":{"field":"T","type":"quantitative","scale":{"domain":[0,1200],"nice":false,"zero":false},"axis":null},"order":{"field":"P","type":"quantitative"}}}
]}
],
"config":{
"font":"DejaVu Sans",
"view":{"stroke":"#000000","strokeWidth":1.5},
"axis":{"domain":false,"grid":false,"tickColor":"#000000","labelFont":"DejaVu Sans","labelFontSize":19,"labelColor":"#000000","labelPadding":6,"labelFlush":false,"labelOverlap":false,"titleFont":"DejaVu Sans","titleFontSize":19,"titleFontWeight":"normal","titleColor":"#000000","titlePadding":6},
"title":{"font":"DejaVu Sans","fontSize":22.8,"fontWeight":"normal","color":"#000000","offset":-3,"anchor":"middle"},
"legend":{"orient":"none","legendX":987,"legendY":404,"symbolType":"M-1,0H3","symbolSize":361,"symbolStrokeWidth":2.2,"labelFont":"DejaVu Sans","labelFontSize":19,"labelColor":"#000000","labelLimit":400,"strokeColor":"#cccccc","fillColor":"#ffffff","cornerRadius":5,"padding":8,"rowPadding":7,"labelOffset":36}
}
}
